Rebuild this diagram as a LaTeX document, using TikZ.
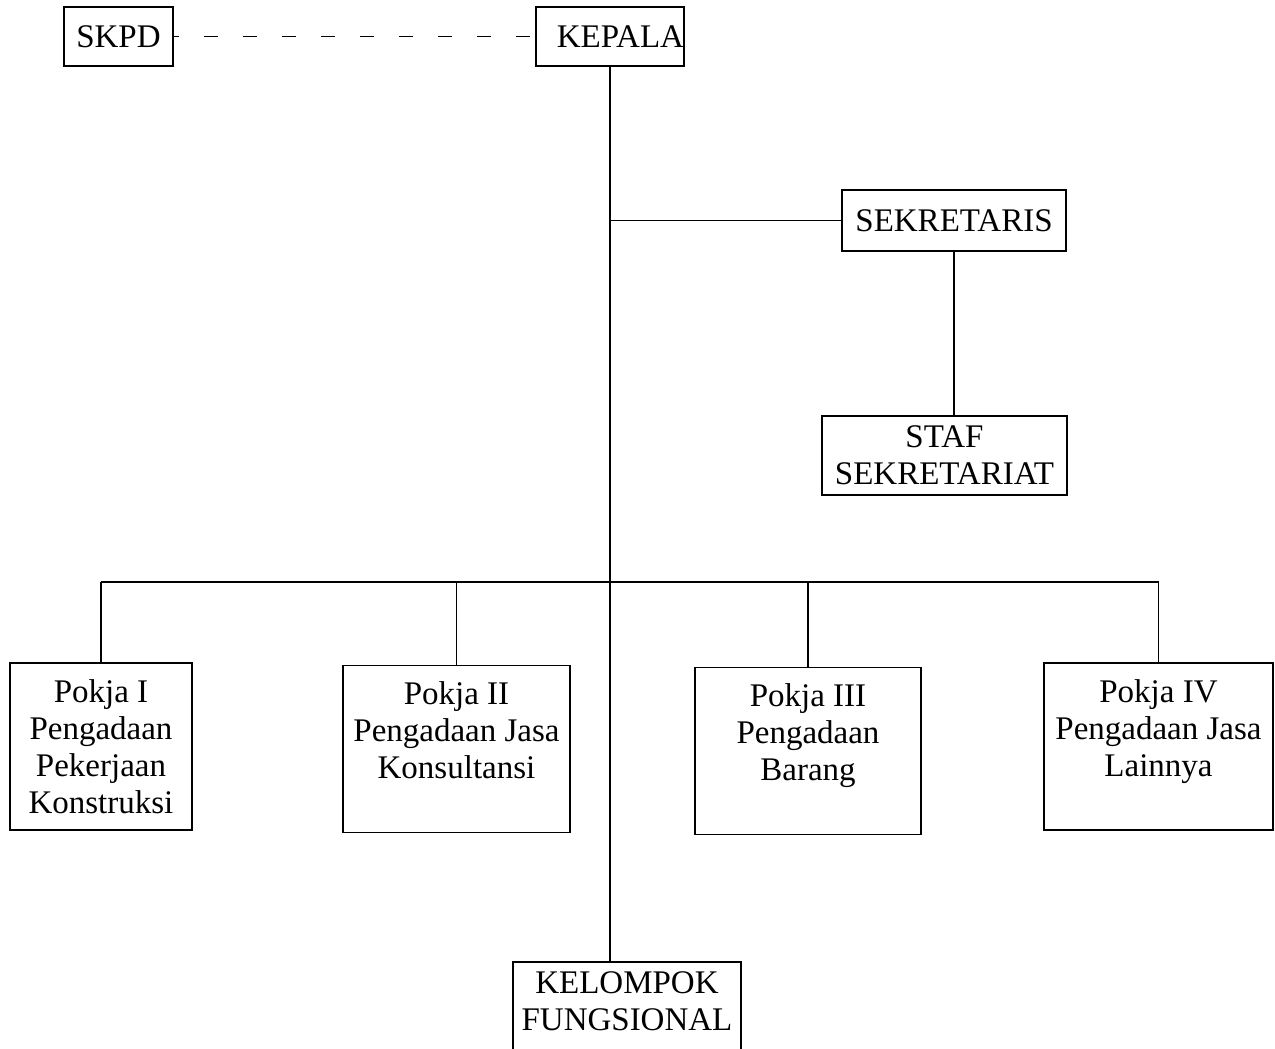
\documentclass[tikz,border=0pt]{standalone}
\usepackage{fontspec}
\setmainfont{Liberation Serif}
\usepackage{tikz}
\usetikzlibrary{calc}

\begin{document}
\begin{tikzpicture}[x=0.5pt,y=-0.5pt,
    unit/.style={draw,line width=0.75pt,align=center,inner sep=0pt,
                 font=\fontsize{16.5}{18.5}\selectfont},
    pokja/.style={unit,minimum height=83.5pt},
    link/.style={line width=0.75pt},
    dashlink/.style={line width=0.75pt,dash pattern=on 7pt off 12.5pt,dash phase=4.5pt}]
    \useasboundingbox (0,0) rectangle (1275,1049);

    % top row
    \node[unit,minimum width=54.5pt,minimum height=29.5pt] (skpd) at (118.5,36.5) {SKPD};
    \node[unit,minimum width=74pt,minimum height=29.5pt,text width=74pt,align=right] (kepala) at (610,36.5) {KEPALA};
    \draw[dashlink] (skpd.east) -- (kepala.west);

    % secretariat
    \node[unit,minimum width=112pt,minimum height=30.5pt] (sekretaris) at (954,220.5) {SEKRETARIS};
    \node[unit,minimum width=122.5pt,minimum height=39.5pt] (staf) at (944.5,455.5) {STAF\\SEKRETARIAT};

    % working groups
    \node[pokja,minimum width=91pt] (p1) at (101,746.5) {Pokja I\\Pengadaan\\Pekerjaan\\Konstruksi};
    \node[pokja,minimum width=113.5pt] (p2) at (456.5,749) {Pokja II\\Pengadaan Jasa\\Konsultansi\\~};
    \node[pokja,minimum width=113pt] (p3) at (808,751) {Pokja III\\Pengadaan\\Barang\\~};
    \node[pokja,minimum width=114.5pt] (p4) at (1158.5,746.5) {Pokja IV\\Pengadaan Jasa\\Lainnya\\~};

    % functional group
    \node[unit,minimum width=114pt,minimum height=57.5pt] (kf) at (627,1019.5) {KELOMPOK\\FUNGSIONAL\\~};

    % lines
    \coordinate (bus) at (610,582);
    \draw[link] (kepala.south) -- (kepala.south |- kf.north);
    \draw[link] (kepala.south |- sekretaris.west) -- (sekretaris.west);
    \draw[link] (sekretaris.south) -- (sekretaris.south |- staf.north);
    \draw[link] (p1.north |- bus) -- (p4.north |- bus);
    \foreach \p in {p1,p2,p3,p4}
        \draw[link] (\p.north) -- (\p.north |- bus);
\end{tikzpicture}
\end{document}
